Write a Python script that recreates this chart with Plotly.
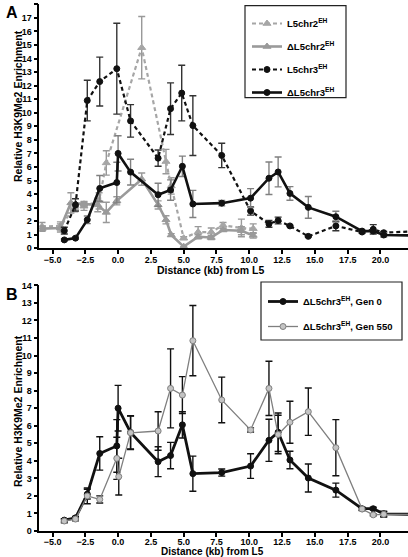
import plotly.graph_objects as go

# ---------------- Panel A data ----------------
a_l5chr2_x = [-5.8, -4.4, -3.3, -2.6, -1.45, -0.9, 1.8, 3.65, 4.05, 5.0, 6.1, 7.1, 8.0, 9.4, 10.3]
a_l5chr2_y = [1.6, 1.65, 3.0, 3.1, 3.5, 6.3, 14.8, 6.4, 4.6, 0.75, 1.2, 1.2, 1.7, 1.5, 1.45]
a_l5chr2_e = [0.3, 0.3, 0.3, 0.3, 0.6, 0.9, 2.3, 0.9, 0.6, 0.1, 0.4, 0.3, 0.2, 0.65, 0.35]

a_dl5chr2_x = [-5.8, -4.4, -3.6, -2.6, -1.55, -0.9, -0.1, 1.8, 3.05, 3.65, 4.05, 5.0, 6.1, 7.1, 8.0, 9.4, 10.3]
a_dl5chr2_y = [1.45, 1.5, 3.35, 3.25, 3.2, 2.65, 3.5, 5.1, 3.2, 2.1, 0.98, 0.12, 0.85, 0.8, 1.35, 1.3, 0.95]
a_dl5chr2_e = [0.2, 0.3, 0.75, 0.2, 0.5, 0.75, 0.3, 0.45, 0.3, 0.3, 0.1, 0.0, 0.15, 0.15, 0.1, 0.3, 0.2]

a_l5chr3_x = [-4.1, -3.25, -2.35, -1.4, -0.1, 0.95, 3.05, 4.0, 4.85, 5.7, 7.9, 10.1, 11.5, 12.2, 13.1, 14.5, 16.6, 18.6, 19.45, 20.25, 22.5]
a_l5chr3_y = [1.3, 3.2, 10.9, 12.3, 13.25, 9.4, 6.65, 10.3, 11.45, 9.05, 6.85, 2.75, 1.8, 2.05, 1.65, 0.88, 1.65, 1.2, 1.4, 1.15, 1.25]
a_l5chr3_e = [0.25, 0.45, 1.5, 1.8, 3.35, 1.2, 0.6, 1.9, 2.05, 2.2, 0.9, 0.3, 0.25, 0.25, 0.05, 0.05, 0.35, 0.1, 0.35, 0.1, 0.0]

# Delta L5chr3 (Gen 0) – shared by both panels
d3_x = [-4.1, -3.25, -2.35, -1.4, -0.1, 0.0, 0.95, 3.05, 4.0, 4.9, 5.7, 7.9, 10.1, 11.5, 12.2, 13.1, 14.5, 16.6, 18.6, 19.45, 20.25, 22.5]
d3_gen0_y = [0.62, 0.75, 2.1, 4.42, 4.85, 7.0, 5.62, 3.95, 4.3, 6.05, 3.27, 3.33, 3.7, 5.17, 5.63, 4.05, 3.02, 2.33, 1.27, 1.27, 0.98, 0.95]
d3_gen0_e = [0.08, 0.08, 0.28, 0.95, 1.5, 1.3, 0.95, 0.85, 0.75, 0.75, 1.0, 0.2, 0.7, 1.2, 1.1, 0.5, 0.8, 0.4, 0.08, 0.08, 0.15, 0.0]

# ---------------- Panel B data ----------------
d3_gen550_x = [-4.1, -3.25, -2.35, -1.4, -0.1, 0.05, 0.95, 3.05, 4.0, 4.9, 5.7, 7.9, 10.1, 11.5, 12.2, 13.1, 14.5, 16.6, 18.6, 19.45, 20.25, 22.5]
d3_gen550_y = [0.57, 0.68, 2.0, 1.8, 4.14, 3.1, 5.6, 5.7, 8.13, 7.75, 10.85, 7.47, 5.76, 8.13, 5.5, 6.2, 6.8, 4.75, 1.25, 0.92, 0.95, 0.95]
d3_gen550_e = [0.1, 0.1, 0.45, 0.2, 1.2, 1.05, 0.95, 1.1, 2.25, 1.05, 2.0, 1.3, 0.12, 1.55, 1.1, 1.2, 1.35, 1.6, 0.08, 0.05, 0.15, 0.0]

x_ticks = [-5.0, -2.5, 0.0, 2.5, 5.0, 7.5, 10.0, 12.5, 15.0, 17.5, 20.0]

FONT = "Liberation Sans, Arial, sans-serif"
W, H = 408, 557

fig = go.Figure()


def add(x, y, e, name, color, dash, width, symbol, msize, ecolor, xa, ya, leg,
        mcolor=None, mline=None):
    fig.add_trace(go.Scatter(
        x=x, y=y, name=name, mode="lines+markers", xaxis=xa, yaxis=ya,
        legend=leg, legendgroup=name,
        line=dict(color=color, width=width, dash=dash),
        marker=dict(symbol=symbol, size=msize, color=mcolor or color,
                    line=dict(color=mline or (mcolor or color), width=1)),
        error_y=dict(type="data", array=e, visible=True, color=ecolor,
                     thickness=1.4, width=3.5),
    ))


add(a_l5chr2_x, a_l5chr2_y, a_l5chr2_e, "L5chr2<sup>EH</sup>", "#a6a6a6", "4px,3px", 2.2,
    "triangle-up", 7, "#999999", "x", "y", "legend")
add(a_dl5chr2_x, a_dl5chr2_y, a_dl5chr2_e, "ΔL5chr2<sup>EH</sup>", "#9a9a9a", "solid", 2.6,
    "triangle-up", 7, "#999999", "x", "y", "legend")
add(a_l5chr3_x, a_l5chr3_y, a_l5chr3_e, "L5chr3<sup>EH</sup>", "#111111", "4px,3px", 2.2,
    "circle", 6, "#333333", "x", "y", "legend")
add(d3_x, d3_gen0_y, d3_gen0_e, "ΔL5chr3<sup>EH</sup>", "#111111", "solid", 2.6,
    "circle", 6, "#808080", "x", "y", "legend")

add(d3_x, d3_gen0_y, d3_gen0_e, "ΔL5chr3<sup>EH</sup>, Gen 0", "#111111", "solid", 2.8,
    "circle", 6, "#111111", "x2", "y2", "legend2")
add(d3_gen550_x, d3_gen550_y, d3_gen550_e, "ΔL5chr3<sup>EH</sup>, Gen 550", "#7f7f7f", "solid", 1.3,
    "circle", 6, "#111111", "x2", "y2", "legend2", mcolor="#c4c4c4", mline="#7f7f7f")

axis_common = dict(showline=True, linecolor="black", linewidth=1.5, ticks="outside",
                   ticklen=4, tickwidth=1.5, tickcolor="black", showgrid=False,
                   zeroline=False, automargin=False,
                   tickfont=dict(family=FONT, size=9, color="black", weight="bold"))

xdom = [39.4 / W, 1.0]
fig.update_layout(
    template="none",
    width=W, height=H, margin=dict(l=0, r=0, t=0, b=0, pad=0),
    paper_bgcolor="white", plot_bgcolor="white",
    font=dict(family=FONT, color="black"),
    xaxis=dict(domain=xdom, range=[-6, 22.1], anchor="y", tickvals=x_ticks,
               tickformat=".1f", ticklabelstandoff=-2, **axis_common),
    yaxis=dict(domain=[(H - 248.3) / H, (H - 4.3) / H], range=[0, 18], anchor="x",
               dtick=1, **axis_common),
    xaxis2=dict(domain=xdom, range=[-6, 22.1], anchor="y2", tickvals=x_ticks,
                tickformat=".1f", ticklabelstandoff=-3, **axis_common),
    yaxis2=dict(domain=[(H - 531) / H, (H - 285.4) / H], range=[0, 14], anchor="x2",
                dtick=1, **axis_common),
    legend=dict(x=247 / W, y=1 - 9 / H, xanchor="left", yanchor="top",
                bgcolor="rgba(0,0,0,0)", borderwidth=0, tracegroupgap=4,
                font=dict(family=FONT, size=9.5, color="black", weight="bold")),
    legend2=dict(x=263 / W, y=1 - 287 / H, xanchor="left", yanchor="top",
                 bgcolor="rgba(0,0,0,0)", borderwidth=0, tracegroupgap=6,
                 font=dict(family=FONT, size=9.5, color="black", weight="bold")),
    showlegend=True,
)

# legend boxes
fig.add_shape(type="rect", xref="paper", yref="paper", x0=245 / W, x1=346 / W,
              y0=1 - 97.7 / H, y1=1 - 5.7 / H, line=dict(color="#222", width=1.2),
              fillcolor="white", layer="above")
fig.add_shape(type="rect", xref="paper", yref="paper", x0=261 / W, x1=402 / W,
              y0=1 - 340 / H, y1=1 - 282 / H, line=dict(color="#222", width=1.2),
              fillcolor="white", layer="above")

ann_font = dict(family=FONT, size=10.5, color="black", weight="bold")
ann_font_b = dict(family=FONT, size=10, color="black", weight="bold")
annos = [
    dict(text="A", x=12 / W, y=1 - 12 / H, font=dict(family=FONT, size=16, color="black", weight="bold")),
    dict(text="B", x=12 / W, y=1 - 294 / H, font=dict(family=FONT, size=16, color="black", weight="bold")),
    dict(text="Relative H3K9Me2 Enrichment", x=18 / W, y=1 - 106 / H, textangle=-90, font=ann_font),
    dict(text="Relative H3K9Me2 Enrichment", x=18 / W, y=1 - 411 / H, textangle=-90, font=ann_font),
    dict(text="Distance (kb) from L5", x=211 / W, y=1 - 270 / H, font=ann_font),
    dict(text="Distance (kb) from L5", x=212 / W, y=1 - 551.5 / H, font=ann_font_b),
]
for a in annos:
    fig.add_annotation(xref="paper", yref="paper", showarrow=False,
                       xanchor="center", yanchor="middle", **a)

fig.write_html("out.html", config={"displayModeBar": False},
               post_script="document.body.style.margin='0px';")
